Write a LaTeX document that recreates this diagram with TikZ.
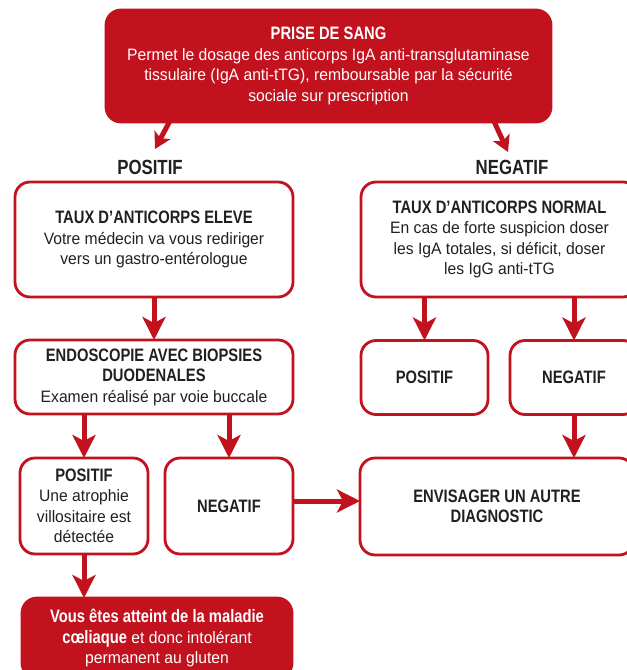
\documentclass[tikz,border=0pt]{standalone}
\usepackage{fontspec}
\setmainfont{Liberation Sans}[UprightFeatures={FakeStretch=0.95},BoldFeatures={FakeStretch=0.82}]
\usetikzlibrary{arrows.meta,calc}
\definecolor{cred}{HTML}{C1121E}
\definecolor{ctext}{HTML}{231F20}
\newcommand{\bhead}[1]{{\bfseries\fontsize{18}{20.5}\selectfont #1}}
\begin{document}
\begin{tikzpicture}[x=1pt,y=-1pt,
  box/.style={draw=cred,line width=2.8pt,rounded corners=15pt,fill=white,align=center,text=ctext,
    font=\fontsize{16.5}{20.5}\selectfont,inner sep=0pt,outer sep=0pt},
  redbox/.style={box,fill=cred,text=white},
  arr/.style={draw=cred,line width=5pt,-{Stealth[length=23pt,width=23pt,inset=6pt]}},
  arrs/.style={draw=cred,line width=5pt,-{Stealth[length=16pt,width=18pt,inset=4pt]}},
  lbl/.style={text=ctext,font=\bfseries\fontsize{20.5}{24}\selectfont,inner sep=0pt}]
\useasboundingbox (0,0) rectangle (627,670);
\clip (0,0) rectangle (627,670);

% boxes
\node[redbox,minimum width=445pt,minimum height=112pt] (top) at (328.5,66)
  {\bhead{PRISE DE SANG}\\Permet le dosage des anticorps IgA anti-transglutaminase\\tissulaire (IgA anti-tTG), remboursable par la sécurité\\sociale sur prescription};
\node[box,minimum width=278pt,minimum height=115pt] (eleve) at (154,239.5)
  {\bhead{TAUX D’ANTICORPS ELEVE}\\Votre médecin va vous rediriger\\vers un gastro-entérologue};
\node[box,minimum width=277pt,minimum height=115pt] (normal) at (499.5,239.5)
  {\bhead{TAUX D’ANTICORPS NORMAL}\\En cas de forte suspicion doser\\les IgA totales, si déficit, doser\\les IgG anti-tTG};
\node[box,minimum width=278pt,minimum height=74pt] (endo) at (154,377)
  {\bhead{ENDOSCOPIE AVEC BIOPSIES}\\\bhead{DUODENALES}\\Examen réalisé par voie buccale};
\node[box,minimum width=127pt,minimum height=74pt] (rpos) at (424.5,377.5) {\bhead{POSITIF}};
\node[box,minimum width=128pt,minimum height=74pt] (rneg) at (574,377.5) {\bhead{NEGATIF}};
\node[box,minimum width=128pt,minimum height=96pt] (lpos) at (84,506)
  {\bhead{POSITIF}\\Une atrophie\\villositaire est\\détectée};
\node[box,minimum width=128pt,minimum height=96pt] (lneg) at (229,506) {\bhead{NEGATIF}};
\node[box,minimum width=274pt,minimum height=97pt] (env) at (497,506.5)
  {\bhead{ENVISAGER UN AUTRE}\\\bhead{DIAGNOSTIC}};
\node[redbox,minimum width=270pt,minimum height=80pt] (final) at (157,638)
  {\bhead{Vous êtes atteint de la maladie}\\\bhead{cœliaque} et donc intolérant\\permanent au gluten};

% labels
\node[lbl] (lblpos) at (150,167) {POSITIF};
\node[lbl] (lblneg) at (512,167) {NEGATIF};

% arrows
\coordinate (sL) at (172,117);
\coordinate (tipL) at (155,149);
\coordinate (sR) at (492,117);
\coordinate (tipR) at (508,152);
\draw[arrs] (sL) -- (tipL);
\draw[arrs] (sR) -- (tipR);
\draw[arr] (eleve.south) -- (endo.north);
\draw[arr] (normal.south -| rpos.north) -- (rpos.north);
\draw[arr] (normal.south -| rneg.north) -- (rneg.north);
\draw[arr] (rneg.south) -- (env.north -| rneg.south);
\draw[arr] (endo.south -| lpos.north) -- (lpos.north);
\draw[arr] (endo.south -| lneg.north) -- (lneg.north);
\coordinate (mid) at ($(lneg.east)+(0,-5)$);
\draw[arr] (mid) -- (env.west |- mid);
\draw[arr] (lpos.south) -- (final.north -| lpos.south);
\end{tikzpicture}
\end{document}
